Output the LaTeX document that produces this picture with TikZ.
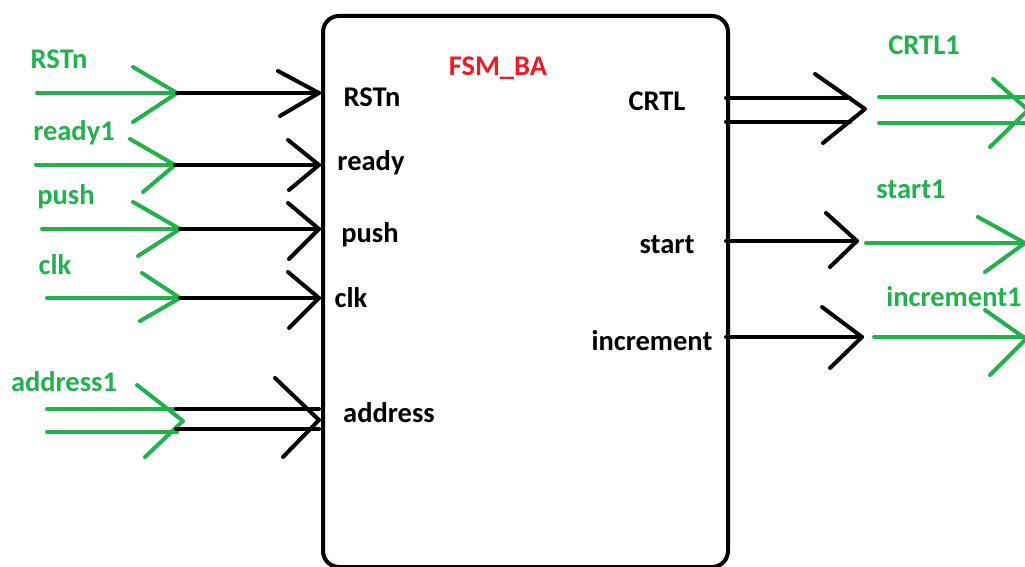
\documentclass[tikz,border=0pt]{standalone}
\usepackage{fontspec}
\setmainfont{Carlito}
\definecolor{sigGreen}{HTML}{22B14C}
\definecolor{titleRed}{HTML}{ED1C24}
\begin{document}
\begin{tikzpicture}[x=1pt,y=-1pt,
  wire/.style={line width=4pt,line cap=round,line join=round},
  gwire/.style={wire,draw=sigGreen},
  bwire/.style={wire,draw=black},
  lbl/.style={font=\fontsize{28.5}{30}\selectfont\bfseries,inner sep=0pt},
  glbl/.style={lbl,text=sigGreen},
  blbl/.style={lbl,text=black},
  rlbl/.style={lbl,text=titleRed}]
\useasboundingbox (0,0) rectangle (1025,567);

% the state machine block
\node[draw,line width=4pt,rounded corners=16pt,minimum width=405pt,
      minimum height=551pt,inner sep=0pt,anchor=north west] (fsm) at (321,14) {};
\node[rlbl] (title) at (498,68) {FSM\_BA};

% port names inside the block
\node[blbl] (pRST) at (372,97) {RSTn};
\node[blbl] (pRdy) at (371,163) {ready};
\node[blbl] (pPush) at (370,235) {push};
\node[blbl] (pClk) at (351,298) {clk};
\node[blbl] (pAddr) at (389,413) {address};
\node[blbl] (pCrtl) at (657,101) {CRTL};
\node[blbl] (pStart) at (667,245) {start};
\node[blbl] (pInc) at (652,341) {increment};

% external signal names
\node[glbl] (sRST) at (59,59) {RSTn};
\node[glbl] (sRdy) at (74,133) {ready1};
\node[glbl] (sPush) at (66,197) {push};
\node[glbl] (sClk) at (55,265) {clk};
\node[glbl] (sAddr) at (64,382) {address1};
\node[glbl] (sCrtl) at (924,45) {CRTL1};
\node[glbl] (sStart) at (911,189) {start1};
\node[glbl] (sInc) at (954,297) {increment1};

% ---------- input RSTn ----------
\coordinate (a0) at (37,93);  \coordinate (a1) at (177,93);  \coordinate (a2) at (319,93);
\coordinate (a1u) at (133,67); \coordinate (a1d) at (133,122);
\coordinate (a2u) at (278,71); \coordinate (a2d) at (280,116);
\draw[gwire] (a0) -- (a1);
\draw[gwire] (a1u) -- (a1) -- (a1d);
\draw[bwire] (a1) -- (a2);
\draw[bwire] (a2u) -- (a2) -- (a2d);

% ---------- input ready ----------
\coordinate (b0) at (36,165);  \coordinate (b1) at (175,165);  \coordinate (b2) at (319,165);
\coordinate (b1u) at (130,139); \coordinate (b1d) at (143,192);
\coordinate (b2u) at (288,140); \coordinate (b2d) at (289,190);
\draw[gwire] (b0) -- (b1);
\draw[gwire] (b1u) -- (b1) -- (b1d);
\draw[bwire] (b1) -- (b2);
\draw[bwire] (b2u) -- (b2) -- (b2d);

% ---------- input push ----------
\coordinate (c0) at (42,229);  \coordinate (c1) at (180,229);  \coordinate (c2) at (319,229);
\coordinate (c1u) at (133,202); \coordinate (c1d) at (138,256);
\coordinate (c2u) at (288,203); \coordinate (c2d) at (289,259);
\draw[gwire] (c0) -- (c1);
\draw[gwire] (c1u) -- (c1) -- (c1d);
\draw[bwire] (c1) -- (c2);
\draw[bwire] (c2u) -- (c2) -- (c2d);

% ---------- input clk ----------
\coordinate (d0) at (47,298);  \coordinate (d1) at (180,298);  \coordinate (d2) at (319,298);
\coordinate (d1u) at (142,273); \coordinate (d1d) at (140,321);
\coordinate (d2u) at (288,272); \coordinate (d2d) at (289,328);
\draw[gwire] (d0) -- (d1);
\draw[gwire] (d1u) -- (d1) -- (d1d);
\draw[bwire] (d1) -- (d2);
\draw[bwire] (d2u) -- (d2) -- (d2d);

% ---------- input bus address ----------
\coordinate (e0) at (47,409);  \coordinate (e1) at (177,409);
\coordinate (f0) at (47,432);  \coordinate (f1) at (177,432);
\coordinate (e3) at (176,409); \coordinate (f3) at (176,429);
\coordinate (e2) at (319,409); \coordinate (f2) at (319,429);
\coordinate (eT) at (183,421);  \coordinate (eTu) at (137,385); \coordinate (eTd) at (145,457);
\coordinate (eB) at (319,420);  \coordinate (eBu) at (275,378); \coordinate (eBd) at (283,457);
\draw[gwire] (e0) -- (e1);
\draw[gwire] (f0) -- (f1);
\draw[gwire] (eTu) -- (eT) -- (eTd);
\draw[bwire] (e3) -- (e2);
\draw[bwire] (f3) -- (f2);
\draw[bwire] (eBu) -- (eB) -- (eBd);

% ---------- output bus CRTL ----------
\coordinate (g0) at (726,98);  \coordinate (g1) at (850,98);
\coordinate (h0) at (726,122); \coordinate (h1) at (850,122);
\coordinate (gT) at (865,109); \coordinate (gTu) at (815,74); \coordinate (gTd) at (823,143);
\coordinate (g2) at (879,97);  \coordinate (g3) at (1025,97);
\coordinate (h2) at (879,123); \coordinate (h3) at (1025,123);
\coordinate (gG) at (1028,110); \coordinate (gGu) at (993,79); \coordinate (gGd) at (990,147);
\draw[bwire] (g0) -- (g1);
\draw[bwire] (h0) -- (h1);
\draw[bwire] (gTu) -- (gT) -- (gTd);
\draw[gwire] (g2) -- (g3);
\draw[gwire] (h2) -- (h3);
\draw[gwire] (gGu) -- (gG) -- (gGd);

% ---------- output start ----------
\coordinate (i0) at (726,241); \coordinate (i1) at (857,241);
\coordinate (i1u) at (826,213); \coordinate (i1d) at (830,267);
\coordinate (i2) at (866,243); \coordinate (i3) at (1025,243);
\coordinate (i3u) at (978,217); \coordinate (i3d) at (985,272);
\draw[bwire] (i0) -- (i1);
\draw[bwire] (i1u) -- (i1) -- (i1d);
\draw[gwire] (i2) -- (i3);
\draw[gwire] (i3u) -- (i3) -- (i3d);

% ---------- output increment ----------
\coordinate (j0) at (726,337); \coordinate (j1) at (862,337);
\coordinate (j1u) at (822,307); \coordinate (j1d) at (830,368);
\coordinate (j2) at (874,337); \coordinate (j3) at (1025,337);
\coordinate (jT) at (1026,339);
\coordinate (j3u) at (985,310); \coordinate (j3d) at (990,375);
\draw[bwire] (j0) -- (j1);
\draw[bwire] (j1u) -- (j1) -- (j1d);
\draw[gwire] (j2) -- (j3);
\draw[gwire] (j3u) -- (jT) -- (j3d);
\end{tikzpicture}
\end{document}
